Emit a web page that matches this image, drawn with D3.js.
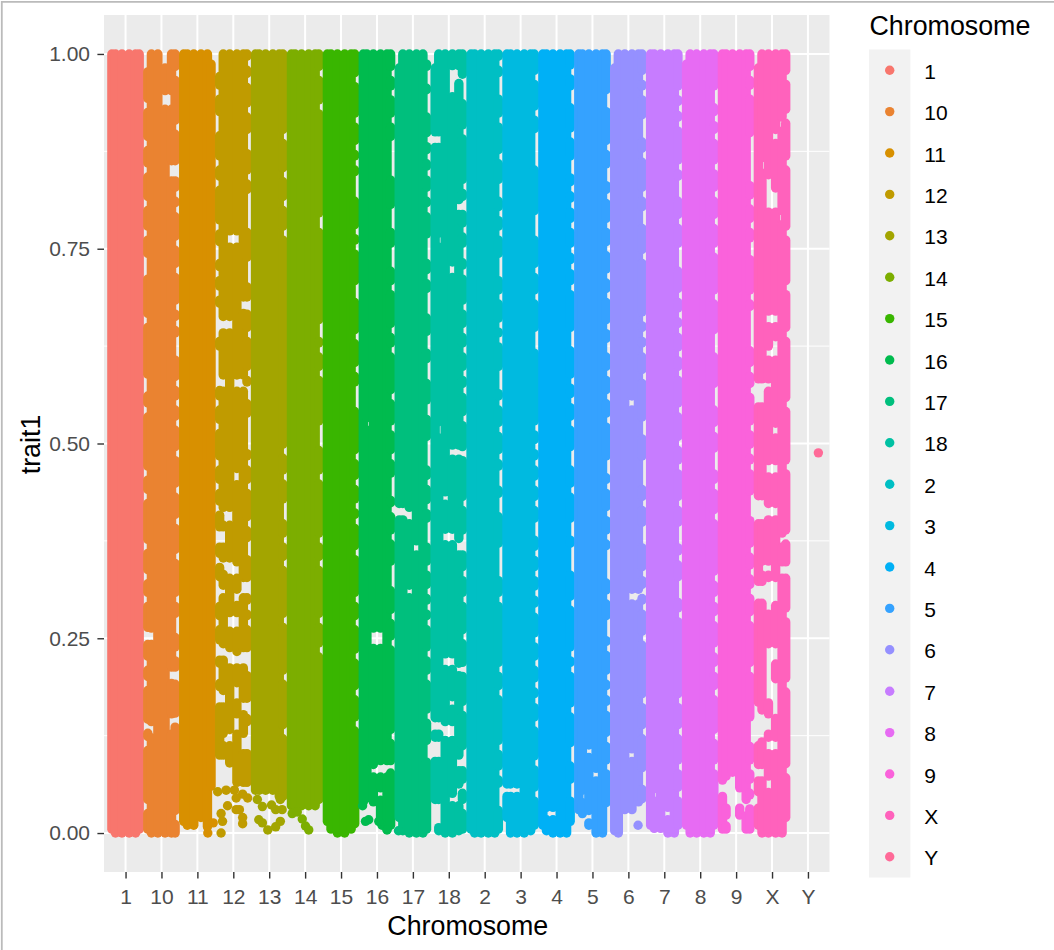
<!DOCTYPE html>
<html>
<head>
<meta charset="utf-8">
<script src="https://cdnjs.cloudflare.com/ajax/libs/d3/7.8.5/d3.min.js"></script>
<style>
  html, body { margin: 0; padding: 0; background: #fff; }
  svg { display: block; font-family: "Liberation Sans", Arial, sans-serif; }
</style>
</head>
<body>
<svg id="chart" width="1054" height="950"></svg>
<script>
// the cloud is too dense to read point by point, so it is kept as runs of
// overlapping points: six jitter lanes per chromosome, broken where the picture shows gaps
var categories = ["1","10","11","12","13","14","15","16","17","18","2","3","4","5","6","7","8","9","X","Y"];
var colours = ["#F8766D","#EA8331","#D89000","#C09B00","#A3A500","#7CAE00","#39B600","#00BB4E","#00BF7D","#00C1A3","#00BFC4","#00BAE0","#00B0F6","#35A2FF","#9590FF","#C77CFF","#E76BF3","#FA62DB","#FF62BC","#FF6A98"];
var yTicks = [0, 0.25, 0.5, 0.75, 1];
var yMinor = [0.125, 0.375, 0.625, 0.875];
var lanes = [-0.38, -0.28, -0.1, 0.1, 0.28, 0.38];

// trait1 values where the outer left / right lane is broken, same order as categories
var leftNotches = [
  [],
  [.934,.885,.851,.808,.77,.735,.72,.658,.58,.57,.543,.462,.432,.368,.329,.30,.255,.218,.192,.137,.115,.034],
  [],
  [.98,.951,.917,.904,.86,.834,.778,.75,.74,.718,.693,.671,.66,.652,.64,.616,.60,.59,.577,.552,.522,.475,.445,.417,.38,.35,.32,.31,.30,.27],
  [], [], [], [], [], [], [], [], [], [], [], [], [], [], [], []
];
var rightNotches = [
  [],
  [.975,.906,.85,.82,.80,.757,.722,.675,.654,.633,.616,.577,.552,.526,.487,.44,.40,.355,.30,.273,.26,.23,.2,.145,.02],
  [],
  [.988,.966,.928,.894,.881,.842,.817,.80,.79,.78,.73,.72,.71,.675,.64,.59,.57,.56,.53,.52,.51,.496,.475,.445,.397,.37,.36,.316,.29,.27],
  [.894,.845,.808,.77,.49,.457,.42,.406,.376,.346,.273,.2,.13],
  [.975,.932,.787,.78,.65,.64,.62,.59,.52,.51,.50,.457,.376,.346,.273,.235],
  [.967,.915,.88,.86,.84,.83,.82,.772,.752,.70,.69,.637,.595,.57,.56,.55,.483,.45,.42,.40,.36,.30,.27,.227,.18,.14],
  [.975,.95,.915,.885,.875,.865,.847,.798,.78,.748,.73,.70,.645,.62,.56,.52,.483,.453,.436,.415,.38,.34,.33,.32,.278,.244,.124],
  [.975,.965,.945,.928,.89,.868,.847,.82,.80,.76,.75,.74,.714,.69,.68,.67,.635,.625,.60,.586,.547,.54,.50,.487,.475,.45,.419,.395,.385,.376,.34,.31,.29,.27,.23,.2,.15,.11,.10],
  [.965,.955,.945,.90,.83,.808,.774,.748,.72,.675,.645,.62,.59,.568,.532,.487,.423,.38,.37,.333,.30,.252,.21,.16,.103,.06,.034],
  [.988,.967,.951,.915,.868,.83,.82,.795,.77,.735,.718,.688,.652,.633,.59,.573,.552,.518,.483,.462,.449,.427,.415,.363,.35,.333,.30,.21,.18,.11,.077,.055,.038],
  [.97,.924,.895,.88,.87,.86,.79,.78,.77,.722,.688,.64,.625,.52,.496,.475,.449,.423,.395,.385,.359,.333,.308,.286,.248,.218,.19,.17,.14,.09,.05],
  [.977,.95,.94,.896,.86,.85,.827,.806,.78,.748,.727,.70,.64,.628,.58,.555,.526,.487,.475,.44,.395,.385,.363,.35,.34,.295,.23,.21,.158,.107,.095,.06,.05],
  [.945,.935,.88,.85,.84,.817,.78,.75,.715,.69,.65,.626,.62,.59,.56,.53,.475,.465,.445,.41,.38,.36,.35,.34,.33,.303,.27,.256,.237,.20,.18,.16,.12,.085,.03,.02],
  [.97,.95,.913,.896,.87,.82,.795,.785,.74,.66,.64,.62,.586,.525,.515,.475,.465,.45,.423,.39,.375,.333,.31,.29,.25,.17,.13,.075,.065,.035,.025],
  [.95,.93,.91,.855,.834,.82,.785,.748,.73,.69,.665,.645,.615,.59,.543,.50,.47,.423,.39,.375,.353,.32,.305,.28,.17,.13,.085,.05],
  [.95,.94,.917,.894,.855,.82,.785,.748,.688,.637,.62,.568,.552,.518,.485,.47,.445,.406,.327,.30,.275,.235,.21,.18,.124,.085],
  [.975,.951,.89,.88,.87,.855,.84,.81,.78,.755,.745,.688,.667,.65,.632,.628,.595,.568,.52,.49,.47,.43,.42,.41,.363,.335,.31,.275,.21,.14,.13,.12,.085,.06,.04],
  [.97,.92,.86,.77,.70,.64,.55,.47,.38,.28,.19,.08],
  []
];

// holes further inside a band: [lane index, from, to]
var innerGaps = [
  [],
  [[0,.98,1.01],[3,.985,1.01],[3,.95,.932],[4,.95,.932],[4,.86,.84],[5,.86,.84],[0,.26,.245],[1,.26,.245],[4,.21,.195],[5,.21,.195],[1,.14,.125],[4,.15,.13]],
  [[5,.99,1.01]],
  [[0,.985,1.01],[2,.77,.755],[3,.77,.755],[4,.685,.67],[5,.685,.67],[1,.66,.645],[2,.66,.645],[3,.585,.57],[4,.585,.57],[1,.585,.57],[3,.465,.45],[1,.415,.398],[2,.415,.398],[0,.39,.37],[1,.39,.37],[1,.35,.335],[2,.35,.335],[2,.345,.33],[3,.345,.33],[1,.315,.305],[3,.31,.295],[2,.28,.262],[3,.28,.262],[4,.325,.305],[5,.325,.305],
   [0,.245,.225],[0,.215,.195],[0,.185,.165],[1,.24,.225],[1,.18,.165],[1,.125,.115],[2,.235,.215],[2,.13,.115],[3,.23,.215],[3,.19,.17],[3,.15,.13],[4,.235,.215],[4,.17,.155],[4,.125,.105],[5,.235,.205],[5,.17,.15],[5,.14,.105]],
  [],
  [],
  [],
  [[2,.26,.24],[3,.26,.24],[2,.085,.075],[3,.09,.075],[4,.09,.075],[5,.09,.08],[3,.055,.045],[1,.53,.52]],
  [[0,.985,1.01],[5,.99,1.01],[0,.42,.405],[1,.42,.405],[2,.415,.4],[3,.372,.36],[2,.315,.305]],
  [[0,.985,1.01],[3,.982,.965],[4,.982,.965],[3,.962,.948],[0,.897,.883],[1,.897,.883],[4,.81,.797],[5,.81,.797],[1,.767,.755],[3,.73,.716],[5,.745,.735],[1,.525,.51],[3,.495,.483],[4,.495,.483],[2,.387,.373],[3,.387,.373],[2,.435,.425],[4,.375,.36],[5,.375,.36],
   [2,.227,.213],[3,.227,.213],[4,.215,.205],[3,.172,.162],[2,.14,.122],[3,.14,.122],[0,.145,.13],[1,.145,.13],[0,.12,.095],[1,.12,.095],[4,.097,.083],[5,.097,.083],[4,.06,.05],[0,.04,.01],[1,.04,.01],[3,.048,.038],[4,.048,.038]],
  [],
  [[0,.06,.05],[1,.06,.05],[2,.06,.05]],
  [[1,.03,.02],[2,.03,.02]],
  [[3,.08,.07],[1,.052,.042],[2,.026,.016],[2,.11,.1]],
  [[0,.985,1.01],[3,.558,.546],[3,.31,.297],[4,.31,.297],[3,.105,.095],[2,.02,.008],[3,.02,.008]],
  [[1,.054,.044],[3,.03,.02]],
  [[0,.99,1.01]],
  [[0,.065,.05],[1,.07,.035],[2,.075,.03],[3,.055,.035],[4,.04,.025],[3,.02,.012],[1,.02,.012]],
  [[0,.985,1.01],[2,.24,.22],[3,.24,.22],[2,.195,.17],[3,.195,.17],[2,.215,.2],[1,.15,.13],[2,.15,.13],[3,.165,.15],[2,.12,.105],[3,.12,.105],[0,.085,.07],[1,.085,.07],[2,.07,.055],[0,.05,.035],[0,.165,.115],[1,.155,.12],
   [2,.622,.61],[3,.622,.61],[0,.58,.55],[1,.58,.55],[2,.58,.57],[3,.523,.51],[2,.475,.46],[3,.475,.46],[2,.42,.405],[3,.42,.405],[0,.43,.40],[1,.43,.40],[4,.382,.37],[1,.346,.334],[2,.346,.334],[4,.345,.33],[5,.345,.33],[2,.325,.295],[3,.325,.295],[0,.32,.298],[1,.32,.298],[2,.296,.284],
   [1,.864,.85],[2,.825,.80],[3,.825,.80],[3,.9,.888],[2,.842,.83],[4,.796,.784],[4,.916,.904],[2,.667,.653],[3,.667,.653],[3,.634,.622]],
  []
];

// value below which a lane has no continuous run
var laneFloors = [
  [.005,0,0,0,0,.005],
  [.005,0,0,0,0,0],
  [.015,.01,.01,.02,.008,.06],
  [.1,.1,.09,.065,.065,.065],
  [.055,.055,.055,.055,.047,.047],
  [.035,.035,.035,.035,.035,.043],
  [.015,.005,0,0,.005,.012],
  [.04,.045,.04,.02,.005,.01],
  [.02,.003,0,0,0,.005],
  [.012,.003,0,0,.003,.005],
  [.005,0,0,0,0,.005],
  [.02,0,0,0,.003,.01],
  [.01,.003,0,0,0,.015],
  [.03,.025,.01,0,0,.015],
  [.003,0,.03,.03,.04,.04],
  [.01,.006,.006,0,0,.01],
  [.01,0,0,0,0,.01],
  [.005,.005,.06,.01,.005,.005],
  [.01,0,0,0,0,.02],
  [2,2,2,2,2,2]
];

// points standing alone: [chromosome, jitter, trait1]
var loosePoints = [
  ["11",.29,.0],["11",.44,.013],
  ["12",-.435,.053],["12",-.2,.055],["12",.03,.055],["12",.26,.05],["12",.4,.045],["12",-.16,.035],["12",-.34,.025],["12",-.3,.015],["12",-.34,0],["12",.08,.045],["12",.17,.03],["12",.26,.02],["12",.26,.012],["12",.08,.03],
  ["13",-.33,.043],["13",-.19,.034],["13",-.29,.017],["13",-.19,.013],["13",-.04,.004],["13",.065,.036],["13",.18,.03],["13",.31,.043],["13",.36,.03],["13",.31,.015],["13",.18,.008],
  ["14",-.36,.025],["14",-.22,.027],["14",-.08,.018],["14",.01,.009],["14",.1,.004],
  ["16",-.4,.035],["16",-.23,.017],["16",-.32,.015],["16",.14,.01],["16",.28,.004],["16",.05,.015],
  ["17",-.4,.003],
  ["6",.27,.01],
  ["Y",.29,.488]
];

var width = 1054, height = 950, pointSize = 9.4;
var panel = { left: 104, right: 829.5, top: 15, bottom: 872 };
var step = (panel.right - panel.left) / (categories.length - 1 + 1.2);

var x = d3.scalePoint()
  .domain(categories)
  .range([panel.left + 0.6 * step, panel.right - 0.6 * step]);
var y = d3.scaleLinear().domain([-0.05, 1.05]).range([panel.bottom, panel.top]);
var colour = d3.scaleOrdinal(categories, colours);

var svg = d3.select("#chart");

// screenshot frame on the top and left of the picture
svg.append("path")
  .attr("d", "M1.8," + height + "V1.8H" + width)
  .attr("fill", "none")
  .attr("stroke", "#BBBBBB")
  .attr("stroke-width", 1.8);

svg.append("rect")
  .attr("x", panel.left).attr("y", panel.top)
  .attr("width", panel.right - panel.left).attr("height", panel.bottom - panel.top)
  .attr("fill", "#EBEBEB");

var grid = svg.append("g").attr("stroke", "#fff");
grid.selectAll("line.minor").data(yMinor).enter().append("line")
  .attr("class", "minor").attr("stroke-width", 1)
  .attr("x1", panel.left).attr("x2", panel.right)
  .attr("y1", function(d) { return y(d); }).attr("y2", function(d) { return y(d); });
grid.selectAll("line.major").data(yTicks).enter().append("line")
  .attr("class", "major").attr("stroke-width", 2)
  .attr("x1", panel.left).attr("x2", panel.right)
  .attr("y1", function(d) { return y(d); }).attr("y2", function(d) { return y(d); });
grid.selectAll("line.vert").data(categories).enter().append("line")
  .attr("class", "vert").attr("stroke-width", 2)
  .attr("x1", function(d) { return x(d); }).attr("x2", function(d) { return x(d); })
  .attr("y1", panel.top).attr("y2", panel.bottom);

// turn the notch and gap tables into runs of points
function laneRuns(i, laneIndex) {
  var holes = [];
  if (laneIndex == 0) leftNotches[i].forEach(function(v) { holes.push([v - 0.009, v + 0.009]); });
  if (laneIndex == lanes.length - 1) rightNotches[i].forEach(function(v) { holes.push([v - 0.009, v + 0.009]); });
  innerGaps[i].forEach(function(g) {
    // the round ends of a run eat into the hole, so open it a little
    if (g[0] == laneIndex) holes.push([Math.min(g[1], g[2]) - 0.003, Math.max(g[1], g[2]) + 0.003]);
  });
  holes.sort(function(a, b) { return a[0] - b[0]; });
  var runs = [], from = laneFloors[i][laneIndex];
  holes.forEach(function(h) {
    if (h[0] > from) runs.push([from, Math.min(h[0], 1)]);
    from = Math.max(from, h[1]);
  });
  if (from < 1) runs.push([from, 1]);
  return runs;
}

var runData = [];
categories.forEach(function(c, i) {
  lanes.forEach(function(j, laneIndex) {
    laneRuns(i, laneIndex).forEach(function(r) {
      runData.push({ chr: c, jitter: j, from: r[0], to: r[1] });
    });
  });
});

svg.append("g").attr("class", "runs")
  .attr("stroke-width", pointSize).attr("stroke-linecap", "round")
  .selectAll("line").data(runData).enter().append("line")
  .attr("x1", function(d) { return x(d.chr) + d.jitter * step; })
  .attr("x2", function(d) { return x(d.chr) + d.jitter * step; })
  .attr("y1", function(d) { return y(d.from); })
  .attr("y2", function(d) { return y(d.to); })
  .attr("stroke", function(d) { return colour(d.chr); });

svg.append("g").attr("class", "loose")
  .selectAll("circle").data(loosePoints).enter().append("circle")
  .attr("cx", function(d) { return x(d[0]) + d[1] * step; })
  .attr("cy", function(d) { return y(d[2]); })
  .attr("r", pointSize / 2)
  .attr("fill", function(d) { return colour(d[0]); });

// axes
var xAxis = svg.append("g")
  .attr("transform", "translate(0," + panel.bottom + ")")
  .call(d3.axisBottom(x).tickSize(6.6).tickPadding(10.5).tickSizeOuter(0));
var yAxis = svg.append("g")
  .attr("transform", "translate(" + panel.left + ",0)")
  .call(d3.axisLeft(y).tickValues(yTicks).tickFormat(d3.format(".2f")).tickSize(6.6).tickPadding(7.4).tickSizeOuter(0));
[xAxis, yAxis].forEach(function(a) {
  a.select(".domain").remove();
  a.selectAll(".tick line").attr("stroke", "#333333").attr("stroke-width", 1.4);
  a.selectAll(".tick text").attr("fill", "#4D4D4D").attr("font-size", 21)
    .attr("font-family", '"Liberation Sans", Arial, sans-serif');
});

svg.append("text")
  .attr("x", (panel.left + panel.right) / 2 + 1).attr("y", 935)
  .attr("text-anchor", "middle").attr("font-size", 26.8).attr("fill", "#000")
  .text("Chromosome");
svg.append("text")
  .attr("transform", "translate(40," + ((panel.top + panel.bottom) / 2 + 1) + ") rotate(-90)")
  .attr("text-anchor", "middle").attr("font-size", 26.8).attr("fill", "#000")
  .text("trait1");

// legend
var keyTop = 49.5, keyStep = 41.4;
svg.append("text")
  .attr("x", 869.5).attr("y", 35)
  .attr("font-size", 26.8).attr("fill", "#000")
  .text("Chromosome");
svg.append("rect")
  .attr("x", 869).attr("y", keyTop)
  .attr("width", 41.4).attr("height", keyStep * categories.length)
  .attr("fill", "#F2F2F2");
var key = svg.selectAll("g.key").data(categories).enter().append("g")
  .attr("class", "key")
  .attr("transform", function(d, i) { return "translate(889.7," + (keyTop + keyStep * (i + 0.5)) + ")"; });
key.append("circle").attr("r", pointSize / 2).attr("fill", function(d) { return colour(d); });
key.append("text")
  .attr("x", 34.5).attr("y", 1).attr("dy", "0.36em")
  .attr("font-size", 21).attr("fill", "#000")
  .text(function(d) { return d; });
</script>
</body>
</html>
